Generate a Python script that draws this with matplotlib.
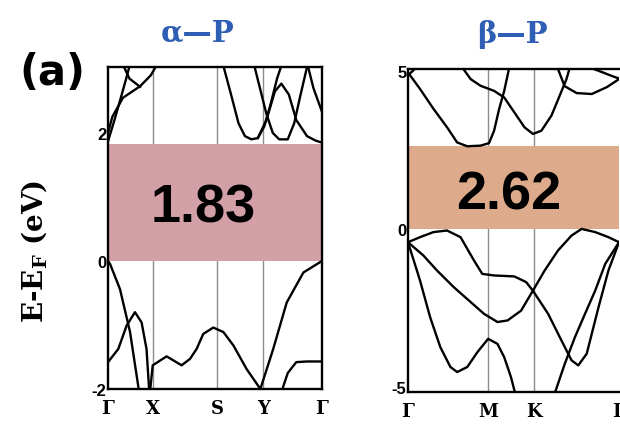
import matplotlib.pyplot as plt

plt.rcParams['mathtext.fontset'] = 'dejavuserif'

# alpha-P, path G-X-S-Y-G
a_kpts = [0, 0.21, 0.51, 0.725, 1.0]
a_klabels = ['Γ', 'X', 'S', 'Y', 'Γ']
a_gap = 1.83
a_yticks = [-2, 0, 2]
a_bands = [
    # valence
    ([0, 0.01, 0.056, 0.103, 0.142, 0.16], [0, -0.05, -0.44, -1.11, -1.97, -2.3]),
    ([0, 0.048, 0.087, 0.126, 0.157, 0.18, 0.193], [-1.58, -1.375, -1.01, -0.8, -0.96, -1.375, -2.05]),
    ([0.196, 0.209, 0.274, 0.344, 0.383, 0.414, 0.445, 0.492, 0.539, 0.586, 0.648, 0.712,
      0.772, 0.835, 0.913, 1.0],
     [-2.05, -1.63, -1.49, -1.63, -1.53, -1.375, -1.14, -1.04, -1.11, -1.32, -1.69, -2.0,
      -1.375, -0.65, -0.18, 0.0]),
    ([0.81, 0.84, 0.88, 0.93, 1.0], [-2.05, -1.75, -1.58, -1.57, -1.57]),
    # conduction
    ([0, 0.03, 0.06, 0.085, 0.105], [1.87, 2.2, 2.55, 2.85, 3.1]),
    ([0, 0.02, 0.07, 0.15, 0.2, 0.235], [2.0, 2.25, 2.55, 2.73, 2.9, 3.1]),
    ([0.065, 0.1, 0.15], [3.1, 2.85, 2.72]),
    ([0.535, 0.575, 0.61, 0.64, 0.67, 0.70, 0.73, 0.76, 0.79, 0.815],
     [3.1, 2.6, 2.15, 1.95, 1.9, 1.92, 2.1, 2.45, 2.85, 3.1]),
    ([0.68, 0.71, 0.74, 0.77, 0.80, 0.84, 0.87, 0.90, 0.935],
     [3.1, 2.7, 2.3, 2.0, 1.9, 1.9, 2.15, 2.6, 3.1]),
    ([0.70, 0.74, 0.78, 0.81, 0.845, 0.88, 0.93, 0.97, 1.0],
     [1.92, 2.2, 2.65, 2.77, 2.6, 2.2, 1.95, 1.88, 1.85]),
    ([0.93, 0.96, 1.0], [3.1, 2.7, 2.33]),
]

# beta-P, path G-M-K-G
b_kpts = [0, 0.378, 0.598, 1.0]
b_klabels = ['Γ', 'M', 'K', 'Γ']
b_gap = 2.62
b_yticks = [-5, 0, 5]
b_bands = [
    # valence
    ([0, 0.057, 0.121, 0.185, 0.249, 0.313, 0.352, 0.408, 0.504, 0.560, 0.592, 0.664,
      0.727, 0.775, 0.807, 0.847, 0.903, 0.950, 1.0],
     [-0.42, -0.26, -0.10, -0.05, -0.26, -1.0, -1.42, -1.47, -1.50, -1.68, -1.95, -2.68,
      -3.52, -4.15, -4.31, -3.94, -2.47, -1.31, -0.42]),
    ([0, 0.073, 0.137, 0.217, 0.297, 0.360, 0.424, 0.472, 0.536, 0.592, 0.648, 0.711,
      0.775, 0.823, 0.887, 0.950, 1.0],
     [-0.42, -0.84, -1.31, -1.84, -2.31, -2.68, -2.94, -2.89, -2.58, -1.95, -1.31, -0.68,
      -0.21, 0.0, -0.10, -0.26, -0.42]),
    ([0, 0.057, 0.105, 0.153, 0.201, 0.233, 0.281, 0.329, 0.380, 0.424, 0.456, 0.488, 0.512],
     [-0.42, -1.63, -2.79, -3.73, -4.36, -4.52, -4.36, -3.89, -3.47, -3.63, -4.05, -4.68, -5.3]),
    ([0.69, 0.743, 0.791, 0.839, 0.887, 0.935, 1.0],
     [-5.3, -4.26, -3.42, -2.68, -1.95, -1.10, -0.42]),
    # conduction
    ([0, 0.057, 0.121, 0.185, 0.233, 0.281, 0.344, 0.384, 0.408, 0.432, 0.456, 0.48],
     [4.94, 4.42, 3.79, 3.21, 2.73, 2.61, 2.63, 2.71, 3.10, 3.79, 4.36, 5.1]),
    ([0.257, 0.297, 0.344, 0.408, 0.456, 0.504, 0.552, 0.592, 0.632, 0.68, 0.719, 0.751, 0.767],
     [5.1, 4.73, 4.52, 4.36, 4.15, 3.68, 3.21, 3.0, 3.10, 3.58, 4.21, 4.73, 5.1]),
    ([0.708, 0.742, 0.799, 0.871, 0.943, 1.0], [5.1, 4.51, 4.29, 4.26, 4.48, 4.73]),
    ([0.86, 0.92, 0.97, 1.0], [5.1, 4.95, 4.82, 4.75]),
    ([0, 0.04], [4.85, 5.1]),
]

SANS = 'Liberation Sans'
SERIF = 'DejaVu Serif'


def draw_panel(ax, kpts, klabels, bands, gap, yticks, ylim, shade, title, tx, ty, gap_xy):
    for k in kpts[1:-1]:
        ax.axvline(k, color='#8c8c8c', lw=1.0, zorder=1)
    ax.axhspan(0, gap, color=shade, lw=0, zorder=2)
    for ks, es in bands:
        ax.plot(ks, es, color='black', lw=1.7, zorder=3, solid_joinstyle='round')
    ax.set_xlim(0, 1)
    ax.set_ylim(*ylim)
    ax.set_xticks(kpts)
    ax.set_xticklabels(klabels, fontfamily=SERIF, fontweight='bold', fontsize=13)
    ax.set_yticks(yticks)
    ax.set_yticklabels([str(v) for v in yticks], fontfamily=SANS, fontweight='bold', fontsize=12)
    ax.tick_params(axis='y', length=0, pad=1)
    ax.tick_params(axis='x', length=0, pad=7)
    for s in ax.spines.values():
        s.set_linewidth(1.7)
    ax.text(gap_xy[0], gap_xy[1], f'{gap:.2f}', ha='center', va='center',
            fontfamily=SANS, fontweight='bold', fontsize=39, zorder=4)
    ax.figure.text(tx, ty, title, ha='center', va='center', color='#2f5fb5',
                   fontfamily=SERIF, fontweight='bold', fontsize=21)


fig = plt.figure(figsize=(6.2, 4.27), dpi=100)
ax1 = fig.add_axes([108 / 620, 37 / 427, 214 / 620, 322 / 427])
ax2 = fig.add_axes([408 / 620, 34 / 427, 211 / 620, 323 / 427])

draw_panel(ax1, a_kpts, a_klabels, a_bands, a_gap, a_yticks, (-2.0, 3.03),
           '#d3a0a7', 'α—P', 0.319, 0.922, (0.445, 0.84))
draw_panel(ax2, b_kpts, b_klabels, b_bands, b_gap, b_yticks, (-5.15, 5.05),
           '#ddab8b', 'β—P', 0.827, 0.920, (0.478, 1.10))
ax2.spines['right'].set_visible(False)

fig.text(0.084, 0.829, '(a)', ha='center', va='center', fontfamily='DejaVu Sans',
         fontweight='bold', fontsize=30)
fig.text(0.055, 0.41, 'E-E$_{\\mathbf{F}}$ (eV)', rotation=90, ha='center', va='center',
         fontfamily=SERIF, fontweight='bold', fontsize=20)

fig.savefig('out.png', dpi=100)
